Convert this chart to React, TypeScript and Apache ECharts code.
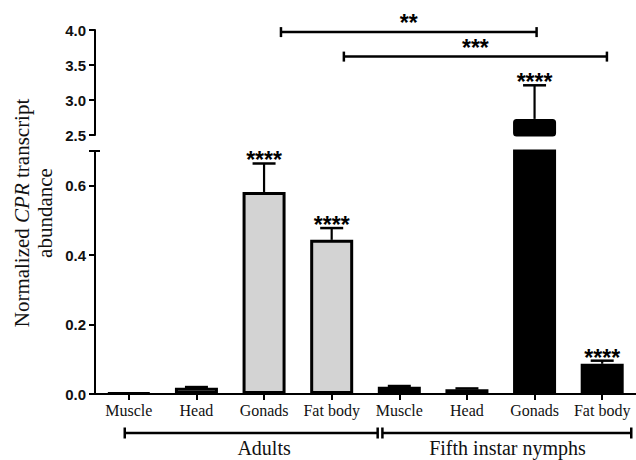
import React, { useEffect, useRef } from 'react';
import * as echarts from 'echarts';

const categories = ['Muscle', 'Head', 'Gonads', 'Fat body', 'Muscle', 'Head', 'Gonads', 'Fat body'];
const groups = ['Adults', 'Fifth instar nymphs'];
const adultMeans = [0.003, 0.018, 0.582, 0.444];
const adultErrTops = [0.003, 0.02, 0.664, 0.478];
const adultStars = ['', '', '****', '****'];
const nymphMeans = [0.021, 0.014, 2.73, 0.087];
const nymphErrTops = [0.023, 0.016, 3.21, 0.096];
const nymphStars = ['', '', '****', '****'];
const upperTicks = [2.5, 3.0, 3.5, 4.0];
const lowerTicks = [0, 0.2, 0.4, 0.6];
const lowerMax = 0.7;
const comparisons = [
  { from: 2, to: 6, y: 3.97, label: '**' },
  { from: 3, to: 7, y: 3.62, label: '***' },
];

const allMeans = adultMeans.concat(nymphMeans);
const allErrTops = adultErrTops.concat(nymphErrTops);
const allStars = adultStars.concat(nymphStars);
const upperMin = upperTicks[0];
const upperMax = upperTicks[upperTicks.length - 1];

const AX = '#000';
const SANS = '"Liberation Sans", Arial, sans-serif';
const SERIF = '"Liberation Serif", "Times New Roman", serif';

function errorRender(params: any, api: any) {
  const idx = api.value(0);
  const mean = api.value(1);
  const top = api.value(2);
  const a = api.coord([idx, mean]);
  const b = api.coord([idx, top]);
  const capHalf = 11.5;
  const children: any[] = [];
  if (top > mean) {
    children.push({
      type: 'line',
      shape: { x1: a[0], y1: a[1], x2: b[0], y2: b[1] },
      style: { stroke: AX, lineWidth: 2.2 },
    });
    children.push({
      type: 'line',
      shape: { x1: b[0] - capHalf, y1: b[1], x2: b[0] + capHalf, y2: b[1] },
      style: { stroke: AX, lineWidth: 2.5 },
    });
  }
  const star = allStars[idx];
  if (star) {
    children.push({
      type: 'text',
      x: b[0],
      y: b[1] - 3,
      style: {
        text: star,
        font: 'bold 23px ' + SANS,
        fill: '#000',
        align: 'center',
        verticalAlign: 'middle',
      },
    });
  }
  return { type: 'group', children };
}

export default function App() {
  const ref = useRef<HTMLDivElement>(null);
  useEffect(() => {
    const chart = echarts.init(ref.current!, null, { renderer: 'svg' });

    const upperErr: any[] = [];
    const lowerErr: any[] = [];
    allMeans.forEach((m, i) => {
      if (m > upperMin) upperErr.push([i, m, allErrTops[i]]);
      else if (allErrTops[i] <= lowerMax) lowerErr.push([i, m, allErrTops[i]]);
    });

    const yLabel = {
      fontFamily: SANS,
      fontWeight: 'bold' as const,
      fontSize: 15,
      color: '#111',
      margin: 9,
    };

    const option: any = {
      animation: false,
      backgroundColor: '#fff',
      grid: [
        { left: 95, top: 30, width: 544, height: 105 },
        { left: 95, top: 151, width: 544, height: 243 },
      ],
      xAxis: [
        {
          type: 'category',
          gridIndex: 0,
          data: categories,
          axisLine: { show: false },
          axisTick: { show: false },
          axisLabel: { show: false },
        },
        {
          type: 'category',
          gridIndex: 1,
          data: categories,
          axisLine: { show: true, lineStyle: { color: AX, width: 2 } },
          axisTick: { show: true, alignWithLabel: true, length: 6, lineStyle: { color: AX, width: 2 } },
          axisLabel: { fontFamily: SERIF, fontSize: 16, color: '#111', margin: 8, interval: 0 },
        },
      ],
      yAxis: [
        {
          type: 'value',
          gridIndex: 0,
          min: upperMin,
          max: upperMax,
          interval: 0.5,
          splitLine: { show: false },
          axisLine: { show: true, lineStyle: { color: AX, width: 2 } },
          axisTick: { show: true, length: 6, lineStyle: { color: AX, width: 2 } },
          axisLabel: { ...yLabel, formatter: (v: number) => v.toFixed(1) },
        },
        {
          type: 'value',
          gridIndex: 1,
          min: 0,
          max: lowerMax,
          interval: 0.2,
          splitLine: { show: false },
          axisLine: { show: true, lineStyle: { color: AX, width: 2 } },
          axisTick: { show: true, length: 6, lineStyle: { color: AX, width: 2 } },
          axisLabel: {
            ...yLabel,
            formatter: (v: number) =>
              lowerTicks.some((t) => Math.abs(t - v) < 1e-6) ? v.toFixed(1) : '',
          },
        },
      ],
      series: [
        {
          type: 'bar',
          xAxisIndex: 1,
          yAxisIndex: 1,
          data: adultMeans.concat(nymphMeans.map(() => '-' as any)),
          barWidth: 43,
          barGap: '-100%',
          clip: true,
          itemStyle: { color: '#d3d3d3', borderColor: '#000', borderWidth: 3 },
        },
        {
          type: 'bar',
          xAxisIndex: 1,
          yAxisIndex: 1,
          data: adultMeans.map(() => '-' as any).concat(nymphMeans),
          barWidth: 43,
          barGap: '-100%',
          clip: true,
          itemStyle: { color: '#000', borderColor: '#000', borderWidth: 3 },
        },
        {
          type: 'bar',
          xAxisIndex: 0,
          yAxisIndex: 0,
          data: allMeans.map((v, i) => (i >= adultMeans.length && v > upperMin ? v : '-')),
          barWidth: 43,
          clip: true,
          itemStyle: { color: '#000', borderColor: '#000', borderWidth: 3, borderRadius: 2 },
        },
        {
          type: 'custom',
          xAxisIndex: 1,
          yAxisIndex: 1,
          data: lowerErr,
          encode: { x: 0, y: [1, 2] },
          renderItem: errorRender,
          clip: false,
          z: 5,
        },
        {
          type: 'custom',
          xAxisIndex: 0,
          yAxisIndex: 0,
          data: upperErr,
          encode: { x: 0, y: [1, 2] },
          renderItem: errorRender,
          clip: false,
          z: 5,
        },
      ],
    };
    chart.setOption(option);

    const pxU = (i: number, v: number) =>
      chart.convertToPixel({ xAxisIndex: 0, yAxisIndex: 0 } as any, [i, v]) as number[];
    const pxL = (i: number, v: number) =>
      chart.convertToPixel({ xAxisIndex: 1, yAxisIndex: 1 } as any, [i, v]) as number[];
    const band = pxL(1, 0)[0] - pxL(0, 0)[0];
    const c = (i: number) => pxL(i, 0)[0];
    const zeroY = pxL(0, 0)[1];
    const lineStyle = { stroke: '#000', lineWidth: 2.5 };

    const g: any[] = [];
    const bracket = (x1: number, x2: number, y: number, h: number) => {
      g.push({ type: 'line', shape: { x1, y1: y, x2, y2: y }, style: lineStyle });
      g.push({ type: 'line', shape: { x1, y1: y - h / 2, x2: x1, y2: y + h / 2 }, style: lineStyle });
      g.push({ type: 'line', shape: { x1: x2, y1: y - h / 2, x2, y2: y + h / 2 }, style: lineStyle });
    };

    // significance comparisons
    const compOffsets = [
      [0.25, 0.03],
      [0.18, 0.07],
    ];
    comparisons.forEach((cmp, k) => {
      const y = pxU(cmp.from, cmp.y)[1];
      const x1 = c(cmp.from) + compOffsets[k][0] * band;
      const x2 = c(cmp.to) + compOffsets[k][1] * band;
      bracket(x1, x2, y, 10);
      g.push({
        type: 'text',
        x: (x1 + x2) / 2,
        y: y - 9,
        style: {
          text: cmp.label,
          font: 'bold 23px ' + SANS,
          fill: '#000',
          align: 'center',
          verticalAlign: 'middle',
        },
      });
    });

    // group brackets under the axis
    const gy = zeroY + 39;
    const groupSpans = [
      [c(0) - 0.06 * band, c(3) + 0.68 * band, c(2)],
      [c(4) - 0.25 * band, c(7) + 0.43 * band, c(5) + 0.6 * band],
    ];
    groupSpans.forEach((s, k) => {
      bracket(s[0], s[1], gy, 11);
      g.push({
        type: 'text',
        x: s[2],
        y: gy + 15,
        style: {
          text: groups[k],
          font: '20px ' + SERIF,
          fill: '#111',
          align: 'center',
          verticalAlign: 'middle',
        },
      });
    });

    // cap at top of lower axis (break mark)
    const topL = pxL(0, lowerMax);
    const axisX = topL[0] - band / 2;
    g.push({
      type: 'line',
      shape: { x1: axisX - 5, y1: topL[1], x2: axisX + 5, y2: topL[1] },
      style: { stroke: '#000', lineWidth: 2 },
    });

    // y-axis title
    g.push({
      type: 'text',
      x: 33,
      y: 213,
      rotation: Math.PI / 2,
      style: {
        text: '{n|Normalized }{i|CPR}{n| transcript}\n{n|abundance}',
        align: 'center',
        verticalAlign: 'middle',
        fill: '#111',
        rich: {
          n: { fontFamily: SERIF, fontSize: 21, lineHeight: 23, fill: '#111' },
          i: { fontFamily: SERIF, fontSize: 21, lineHeight: 23, fontStyle: 'italic', fill: '#111' },
        },
      },
    });

    chart.setOption({ graphic: g });

    return () => chart.dispose();
  }, []);
  return <div ref={ref} style={{ position: 'fixed', left: 0, top: 0, width: 636, height: 460 }} />;
}
